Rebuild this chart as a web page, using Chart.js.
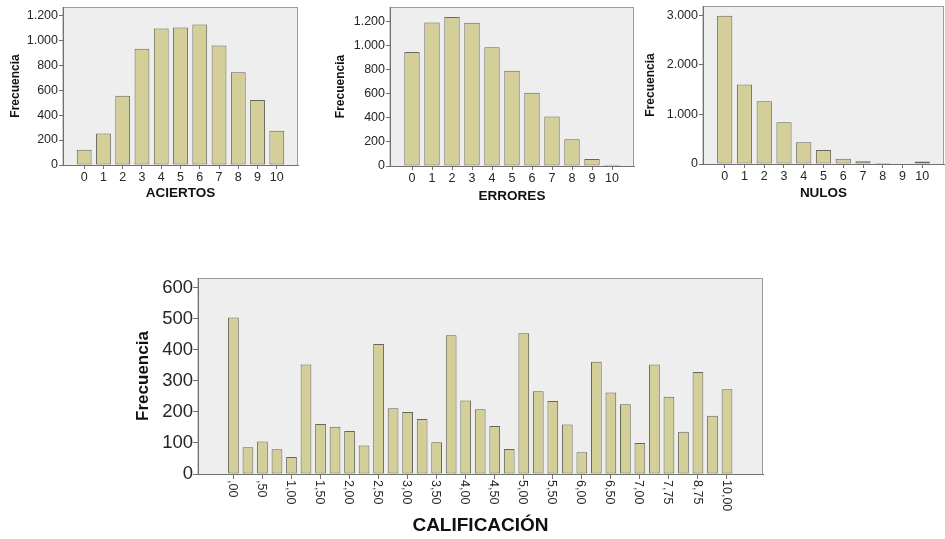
<!DOCTYPE html>
<html>
<head>
<meta charset="utf-8">
<script src="https://cdn.jsdelivr.net/npm/chart.js@4.4.0/dist/chart.umd.min.js"></script>
<style>
body { margin: 0; background: #fff; }
#wrap { position: relative; width: 945px; height: 539px; overflow: hidden; }
canvas { position: absolute; }
</style>
</head>
<body>
<div id="wrap">
<canvas id="c1" width="310" height="210" style="left:0;top:0"></canvas>
<canvas id="c2" width="325" height="210" style="left:310px;top:0"></canvas>
<canvas id="c3" width="315" height="210" style="left:630px;top:0"></canvas>
<canvas id="c4" width="650" height="269" style="left:130px;top:270px"></canvas>
</div>
<script>
// data
var smallCats = [0, 1, 2, 3, 4, 5, 6, 7, 8, 9, 10];
var aciertos = [122, 253, 555, 931, 1093, 1101, 1125, 957, 744, 520, 275];
var errores = [946, 1190, 1236, 1187, 985, 789, 607, 411, 221, 58, 11];
var nulos = [2990, 1602, 1265, 841, 438, 283, 108, 54, 20, 12, 48];

var ticksAciertos = [0, 200, 400, 600, 800, 1000, 1200];
var ticksErrores = [0, 200, 400, 600, 800, 1000, 1200];
var ticksNulos = [0, 1000, 2000, 3000];

var calLabels = [',00', ',25', ',50', ',75', '1,00', '1,25', '1,50', '1,75', '2,00', '2,25',
    '2,50', '2,75', '3,00', '3,25', '3,50', '3,75', '4,00', '4,25', '4,50', '4,75',
    '5,00', '5,25', '5,50', '5,75', '6,00', '6,25', '6,50', '6,75', '7,00', '7,50',
    '7,75', '8,25', '8,75', '9,50', '10,00'];
var calValues = [505, 86, 105, 80, 55, 353, 161, 152, 139, 92, 419, 212, 200, 177, 102,
    447, 237, 209, 155, 81, 454, 267, 235, 160, 70, 362, 263, 225, 100, 353, 249, 136,
    329, 188, 273];
var ticksCal = [0, 100, 200, 300, 400, 500, 600];

var FONT = "'Liberation Sans', Arial, sans-serif";
var BAR_FILL = '#d4cf98';
var BAR_EDGE = '#66665a';
var AXIS = '#707070';
var TICK_TEXT = '#262626';

function miles(v) {
    return String(v).replace(/\B(?=(\d{3})+(?!\d))/g, '.');
}

// grey plot background with a light frame, like SPSS
var plotFrame = {
    id: 'plotFrame',
    beforeDraw: function (chart) {
        var a = chart.chartArea;
        var ctx = chart.ctx;
        ctx.save();
        ctx.fillStyle = '#eeeeee';
        ctx.fillRect(a.left, a.top, a.right - a.left, a.bottom - a.top);
        ctx.strokeStyle = '#9c9c9c';
        ctx.lineWidth = 1;
        ctx.strokeRect(a.left, a.top + 0.5, a.right - a.left - 0.5, a.bottom - a.top);
        ctx.restore();
    }
};

// x labels turned clockwise (read top to bottom)
var rotatedLabels = {
    id: 'rotatedLabels',
    afterDraw: function (chart) {
        var s = chart.scales.x;
        var ctx = chart.ctx;
        ctx.save();
        ctx.font = '12.5px ' + FONT;
        ctx.fillStyle = TICK_TEXT;
        ctx.textAlign = 'left';
        ctx.textBaseline = 'middle';
        s.ticks.forEach(function (t) {
            var x = s.getPixelForValue(t.value) - 1;
            ctx.save();
            ctx.translate(x, chart.chartArea.bottom + 6);
            ctx.rotate(Math.PI / 2);
            ctx.fillText(calLabels[t.value], 0, 0);
            ctx.restore();
        });
        ctx.restore();
    }
};

function barData(values, xs) {
    return values.map(function (v, i) {
        return { x: xs[i], y: v };
    });
}

// fixed axis width, and no extra room for the half label at the top
function fixWidth(w) {
    return function (s) {
        s.width = w;
        s.paddingTop = 0;
        s.paddingBottom = 0;
    };
}

function smallChart(id, values, yTicks, yMax, xTitle, o) {
    return new Chart(document.getElementById(id), {
        type: 'bar',
        data: {
            datasets: [{
                data: barData(values, smallCats),
                backgroundColor: BAR_FILL,
                borderColor: BAR_EDGE,
                borderWidth: 1,
                borderSkipped: false,
                barPercentage: 0.77,
                categoryPercentage: 1
            }]
        },
        options: {
            responsive: false,
            animation: false,
            events: [],
            layout: { padding: { left: 0, top: o.top, right: o.right, bottom: 0 } },
            plugins: { legend: { display: false }, tooltip: { enabled: false } },
            scales: {
                x: {
                    type: 'linear', min: -1.1, max: 11.1, offset: false,
                    afterBuildTicks: function (s) { s.ticks = smallCats.map(function (v) { return { value: v }; }); },
                    afterFit: function (s) { s.height = o.xHeight; s.paddingLeft = 0; s.paddingRight = 0; },
                    grid: { offset: false, drawOnChartArea: false, drawTicks: true, tickLength: 4, color: AXIS },
                    border: { color: AXIS },
                    ticks: {
                        autoSkip: false, maxRotation: 0, padding: 1, color: TICK_TEXT,
                        font: { family: FONT, size: 12.5 },
                        callback: function (v) { return String(v); }
                    },
                    title: {
                        display: true, text: xTitle, color: '#111',
                        font: { family: FONT, size: 13.5, weight: 'bold' },
                        padding: { top: 0, bottom: o.xTitlePad }
                    }
                },
                y: {
                    min: 0, max: yMax,
                    afterBuildTicks: function (s) { s.ticks = yTicks.map(function (v) { return { value: v }; }); },
                    afterFit: fixWidth(o.yWidth),
                    grid: { drawOnChartArea: false, drawTicks: true, tickLength: 4, color: AXIS },
                    border: { color: AXIS },
                    ticks: {
                        padding: 1, color: TICK_TEXT,
                        font: { family: FONT, size: 12.5 },
                        callback: miles
                    },
                    title: {
                        display: true, text: 'Frecuencia', color: '#111',
                        font: { family: FONT, size: 12, weight: 'bold' },
                        padding: { top: o.yTitlePad, bottom: 0 }
                    }
                }
            }
        },
        plugins: [plotFrame]
    });
}

smallChart('c1', aciertos, ticksAciertos, 1266, 'ACIERTOS',
    { top: 7, right: 12, yWidth: 63, xHeight: 45, yTitlePad: 8, xTitlePad: 9 });
smallChart('c2', errores, ticksErrores, 1318, 'ERRORES',
    { top: 7, right: 1, yWidth: 80, xHeight: 44, yTitlePad: 23, xTitlePad: 6 });
smallChart('c3', nulos, ticksNulos, 3188, 'NULOS',
    { top: 6, right: 1, yWidth: 73, xHeight: 46, yTitlePad: 13, xTitlePad: 9 });

var calIdx = calValues.map(function (v, i) { return i; });
var calTickIdx = calIdx.filter(function (i) { return i % 2 === 0; });

new Chart(document.getElementById('c4'), {
    type: 'bar',
    data: {
        datasets: [{
            data: barData(calValues, calIdx),
            backgroundColor: BAR_FILL,
            borderColor: BAR_EDGE,
            borderWidth: 1,
            borderSkipped: false,
            barPercentage: 0.74,
            categoryPercentage: 1
        }]
    },
    options: {
        responsive: false,
        animation: false,
        events: [],
        layout: { padding: { left: 0, top: 8, right: 17, bottom: 0 } },
        plugins: { legend: { display: false }, tooltip: { enabled: false } },
        scales: {
            x: {
                type: 'linear', min: -2.44, max: 36.48, offset: false,
                afterBuildTicks: function (s) { s.ticks = calTickIdx.map(function (v) { return { value: v }; }); },
                afterFit: function (s) { s.height = 65; s.paddingLeft = 0; s.paddingRight = 0; },
                grid: { offset: false, drawOnChartArea: false, drawTicks: true, tickLength: 5, color: AXIS },
                border: { color: AXIS },
                ticks: { display: false, autoSkip: false },
                title: {
                    display: true, text: 'CALIFICACIÓN', color: '#111',
                    font: { family: FONT, size: 19, weight: 'bold' },
                    padding: { top: 0, bottom: 2 }
                }
            },
            y: {
                min: 0, max: 632,
                afterBuildTicks: function (s) { s.ticks = ticksCal.map(function (v) { return { value: v }; }); },
                afterFit: fixWidth(68),
                grid: { drawOnChartArea: false, drawTicks: true, tickLength: 5, color: AXIS },
                border: { color: AXIS },
                ticks: {
                    padding: 0, color: TICK_TEXT,
                    font: { family: FONT, size: 18.5 }
                },
                title: {
                    display: true, text: 'Frecuencia', color: '#111',
                    font: { family: FONT, size: 17, weight: 'bold' },
                    padding: { top: 3, bottom: 0 }
                }
            }
        }
    },
    plugins: [plotFrame, rotatedLabels]
});
</script>
</body>
</html>
